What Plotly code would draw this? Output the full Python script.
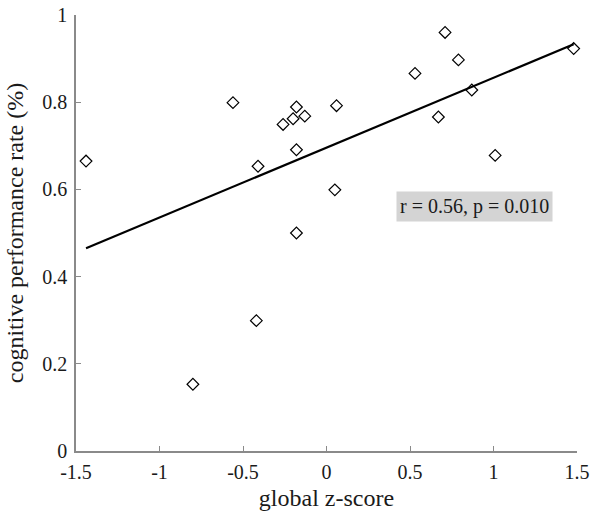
import plotly.graph_objects as go

# global z-score vs cognitive performance rate
z_score = [-1.44, -0.56, -0.41, -0.26, -0.20, -0.18, -0.18, -0.18, -0.13, 0.06,
           0.05, 0.53, 0.71, 0.79, 0.87, 0.67, 1.01, 1.48, -0.42, -0.80]
perf_rate = [0.665, 0.799, 0.653, 0.749, 0.762, 0.789, 0.691, 0.500, 0.768, 0.792,
             0.599, 0.866, 0.960, 0.897, 0.828, 0.766, 0.678, 0.923, 0.299, 0.153]

# regression line endpoints
fit_x = [-1.44, 1.48]
fit_y = [0.465, 0.933]

x_ticks = [-1.5, -1, -0.5, 0, 0.5, 1, 1.5]
x_labels = ["-1.5", "-1", "-0.5", "0", "0.5", "1", "1.5"]
y_ticks = [0, 0.2, 0.4, 0.6, 0.8, 1]
y_labels = ["0", "0.2", "0.4", "0.6", "0.8", "1"]

FONT = "Liberation Serif"
AXIS_GREY = "#8a8a8a"

fig = go.Figure()
fig.add_trace(go.Scatter(
    x=z_score, y=perf_rate, mode="markers", cliponaxis=False,
    marker=dict(symbol="diamond-open", size=9, color="black", line=dict(width=1.2)),
))
fig.add_trace(go.Scatter(
    x=fit_x, y=fit_y, mode="lines",
    line=dict(color="black", width=2.2),
))

fig.add_annotation(
    x=0.888, y=0.56, xref="x", yref="y",
    text="r = 0.56, p = 0.010", showarrow=False,
    font=dict(family=FONT, size=20, color="#1a1a1a"),
    bgcolor="#d4d4d4", borderpad=3,
)

axis_common = dict(
    showgrid=False, zeroline=False, showline=True, automargin=False,
    linecolor=AXIS_GREY, linewidth=1.5,
    ticks="inside", ticklen=5, tickcolor=AXIS_GREY, tickwidth=1,
    tickfont=dict(family=FONT, size=20, color="#1a1a1a"),
    ticklabeloverflow="allow",
)

fig.update_layout(
    width=600, height=519,
    margin=dict(l=76, r=23, t=15, b=68),
    plot_bgcolor="white", paper_bgcolor="white",
    showlegend=False,
    font=dict(family=FONT, size=20, color="#1a1a1a"),
    xaxis=dict(
        **axis_common, range=[-1.5, 1.5],
        tickvals=x_ticks, ticktext=x_labels, ticklabelstandoff=2,
        title=dict(text="global z-score", standoff=7),
    ),
    yaxis=dict(
        **axis_common, range=[0, 1],
        tickvals=y_ticks, ticktext=y_labels, ticklabelstandoff=3,
        title=dict(text="cognitive performance rate (%)", standoff=12),
    ),
)

# drop the default page margin so the figure fills the window
fig.write_html(
    "out.html",
    config={"displayModeBar": False},
    post_script="document.body.style.margin='0';",
)
